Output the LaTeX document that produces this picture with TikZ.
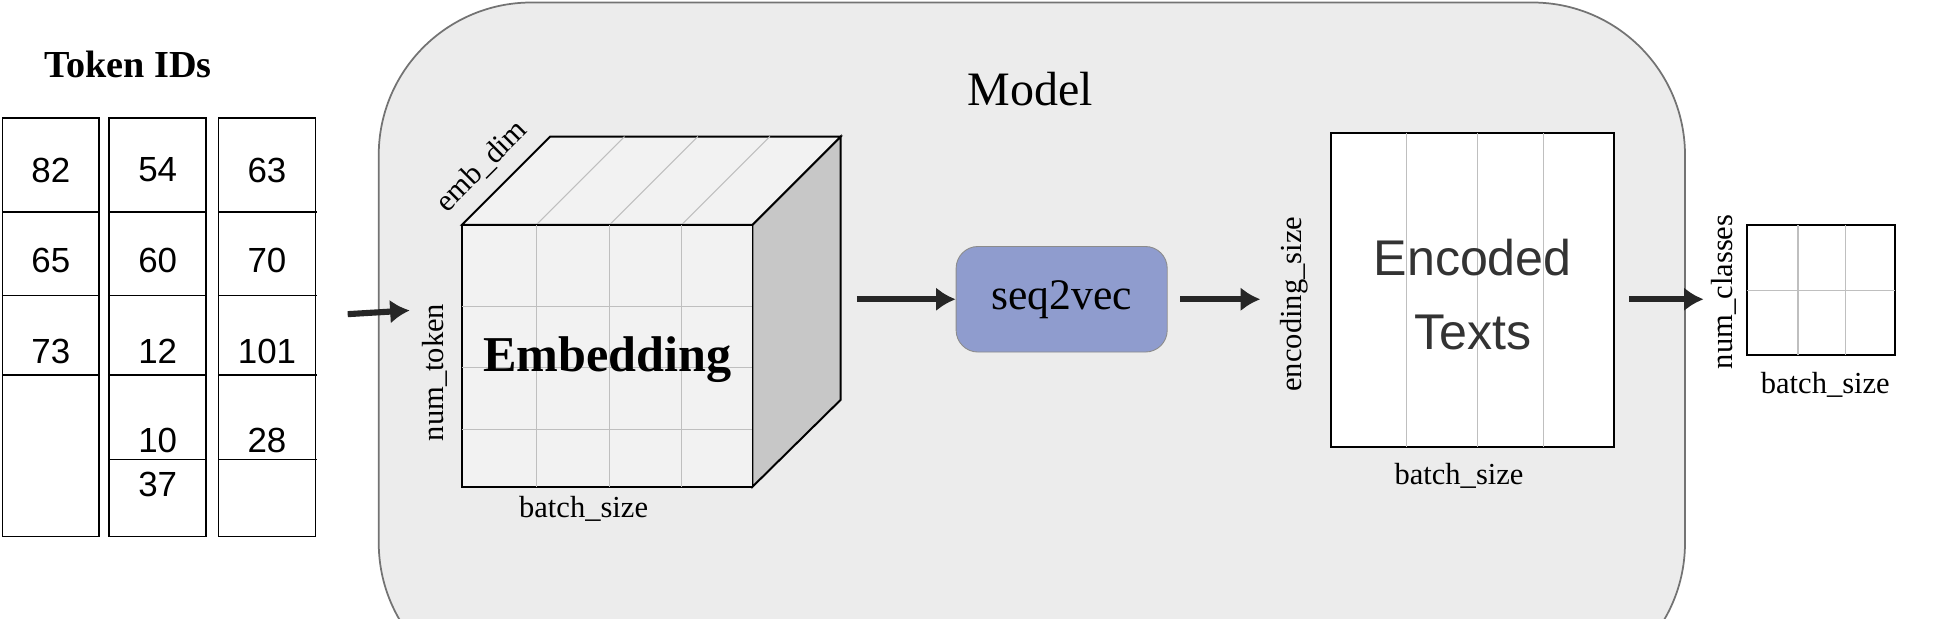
\documentclass[tikz,border=0pt]{standalone}
\usepackage{fontspec}
\setmainfont{Liberation Serif}
\newfontfamily\sansf{Liberation Sans}
\usetikzlibrary{arrows.meta}
\begin{document}
\begin{tikzpicture}[x=0.02cm,y=-0.02cm,
  num/.style={font=\sansf\fontsize{16}{18}\selectfont},
  lbl/.style={font=\fontsize{14}{16}\selectfont},
  arr/.style={line width=2.8pt,-{Latex[length=9pt,width=11pt]},draw=black!85},
  col/.style={draw=black,line width=0.8pt},
  thin/.style={draw=black!25,line width=0.5pt}]
\useasboundingbox (0,0) rectangle (1568,498);
\clip (0,0) rectangle (1568,498);
% Token IDs
\node[font=\bfseries\fontsize{17.5}{19}\selectfont] (tok) at (103,52) {Token IDs};
\foreach \x/\n in {2/c1,88/c2,176/c3}{
  \draw[col] (\x,95) rectangle ++(78,337);
}
\foreach \y in {171,238,302} \draw[col] (2,\y) -- (80,\y);
\foreach \y in {171,238,302,370} \draw[col] (88,\y) -- (166,\y);
\foreach \y in {171,238,302,370} \draw[col] (176,\y) -- (255,\y);
\node[num] (a1) at (41,137) {82};
\node[num] (a2) at (41,210) {65};
\node[num] (a3) at (41,283) {73};
\node[num] (b1) at (127,137) {54};
\node[num] (b2) at (127,210) {60};
\node[num] (b3) at (127,283) {12};
\node[num] (b4) at (127,355) {10};
\node[num] (b5) at (127,390) {37};
\node[num] (d1) at (215,137) {63};
\node[num] (d2) at (215,210) {70};
\node[num] (d3) at (215,283) {101};
\node[num] (d4) at (215,355) {28};
\coordinate (in0) at (280,253);
% Model
\draw[fill=black!7.5,draw=black!55,line width=0.8pt,rounded corners=70] (305,2) rectangle (1357,560);
\node[font=\fontsize{22}{24}\selectfont] (model) at (830,72) {Model};
\coordinate (in1) at (330,250);
\draw[arr] (in0) -- (in1);
% cube
\draw[fill=black!22,draw=black,line width=0.9pt] (606,181) -- (677,110) -- (677,322) -- (606,392) -- cycle;
\draw[fill=black!5,draw=black,line width=0.9pt] (372,181) -- (443,110) -- (677,110) -- (606,181) -- cycle;
\foreach \x in {432,491,549} \draw[thin] (\x,181) -- ++(71,-71);
\draw[fill=black!5,draw=black,line width=0.9pt] (372,181) rectangle (606,392);
\foreach \x in {432,491,549} \draw[thin] (\x,181) -- (\x,392);
\foreach \y in {247,296,346} \draw[thin] (372,\y) -- (606,\y);
\node[font=\bfseries\fontsize{23}{25}\selectfont] (emb) at (489,290) {Embedding};
\node[lbl,rotate=45] (embdim) at (388,134) {emb\_dim};
\node[lbl,rotate=90] (ntok) at (350,300) {num\_token};
\node[lbl] (bs1) at (470,410) {batch\_size};
% seq2vec
\coordinate (s0) at (690,241);
\node[draw=black!45,fill={rgb,255:red,143;green,156;blue,206},rounded corners=10,minimum width=170*0.02cm,minimum height=85*0.02cm,font=\fontsize{20}{22}\selectfont] (s2v) at (855,241) {seq2vec};
\draw[arr] (s0) -- (s2v.west);
\coordinate (e0) at (1015,241);
\draw[arr] (s2v.east) ++(10,0) -- (e0);
\node[lbl,rotate=90] (encs) at (1042,245) {encoding\_size};
% Encoded texts
\draw[fill=white,draw=black,line width=0.9pt] (1072,107) rectangle (1300,360);
\foreach \x in {1133,1190,1243} \draw[thin] (\x,107) -- (\x,360);
\node[font=\sansf\fontsize{23}{34}\selectfont,align=center,text=black!80] (enc) at (1186,237) {Encoded\\Texts};
\node[lbl] (bs2) at (1175,383) {batch\_size};
\coordinate (o0) at (1312,241);
\coordinate (o1) at (1372,241);
\draw[arr] (o0) -- (o1);
\node[lbl,rotate=90] (ncls) at (1388,235) {num\_classes};
\draw[fill=white,draw=black,line width=0.9pt] (1407,181) rectangle (1526,286);
\foreach \x in {1448,1486} \draw[thin] (\x,181) -- (\x,286);
\draw[thin] (1407,234) -- (1526,234);
\node[lbl] (bs3) at (1470,310) {batch\_size};
\end{tikzpicture}
\end{document}
